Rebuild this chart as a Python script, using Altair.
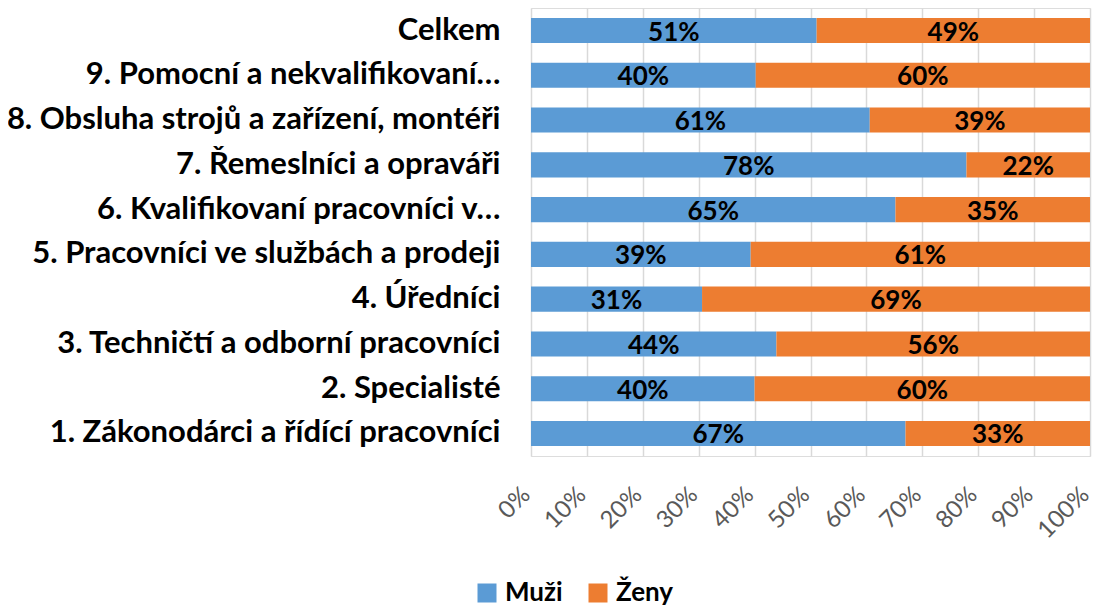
import altair as alt
import pandas as pd

categories = [
    "Celkem",
    "9. Pomocní a nekvalifikovaní…",
    "8. Obsluha strojů a zařízení, montéři",
    "7. Řemeslníci a opraváři",
    "6. Kvalifikovaní pracovníci v…",
    "5. Pracovníci ve službách a prodeji",
    "4. Úředníci",
    "3. Techničtí a odborní pracovníci",
    "2. Specialisté",
    "1. Zákonodárci a řídící pracovníci",
]
muzi = [51.1, 40.2, 60.6, 77.9, 65.2, 39.3, 30.6, 43.9, 40.0, 67.0]
zeny = [48.9, 59.8, 39.4, 22.1, 34.8, 60.7, 69.4, 56.1, 60.0, 33.0]
series = ["Muži", "Ženy"]
colors = ["#5B9BD5", "#ED7D31"]
x_ticks = [0, 10, 20, 30, 40, 50, 60, 70, 80, 90, 100]

rows = []
for c, m, z in zip(categories, muzi, zeny):
    rows.append({"cat": c, "series": series[0], "value": m, "ord": 0})
    rows.append({"cat": c, "series": series[1], "value": z, "ord": 1})
df = pd.DataFrame(rows)

FONT = "Lato"

base = alt.Chart(df).transform_stack(
    stack="value", as_=["x0", "x1"], groupby=["cat"],
    sort=[alt.SortField("ord", order="ascending")]
).transform_calculate(
    mid="(datum.x0 + datum.x1) / 2",
    lab="format(datum.value / 100, '.0%')"
)

yenc = alt.Y("cat:N", sort=categories,
             scale=alt.Scale(paddingInner=0.44, paddingOuter=0.223),
             axis=alt.Axis(title=None, labelFont=FONT, labelFontWeight="bold",
                           labelFontSize=31, labelColor="#000000", labelLimit=700,
                           labelPadding=31, ticks=False, domain=False, grid=False))

bars = base.mark_bar().encode(
    x=alt.X("x0:Q", scale=alt.Scale(domain=[0, 100]),
            axis=alt.Axis(title=None, values=x_ticks, labelExpr="datum.value + '%'",
                          labelAngle=-45, labelAlign="right", labelBaseline="alphabetic",
                          labelOverlap=False, labelBound=False,
                          labelFont=FONT, labelFontSize=24,
                          labelColor="#595959", labelPadding=40, ticks=False,
                          domain=False, grid=True, gridColor="#D9D9D9",
                          gridWidth=1.5)),
    x2="x1:Q",
    y=yenc,
    color=alt.Color("series:N", scale=alt.Scale(domain=series, range=colors),
                    legend=alt.Legend(title=None, orient="none", direction="horizontal",
                                      legendX=-57, legendY=572, symbolType="square",
                                      symbolSize=361, symbolStrokeWidth=0,
                                      labelFont=FONT, labelFontWeight="bold",
                                      labelFontSize=26, labelColor="#000000",
                                      columnPadding=22, symbolOffset=0, labelOffset=5)),
)

texts = base.mark_text(font=FONT, fontWeight="bold", fontSize=26, color="#000000",
                       baseline="middle", dy=2).encode(
    x=alt.X("mid:Q"),
    y=alt.Y("cat:N", sort=categories),
    text="lab:N",
)

chart = alt.layer(bars, texts).properties(
    width=559, height=448,
    autosize=alt.AutoSizeParams(type="none"),
    padding={"left": 523, "top": 0, "right": 3, "bottom": 150},
).configure_view(stroke=None).configure(background="white")

chart.save("out.html", embed_options={"renderer": "svg", "actions": False})
